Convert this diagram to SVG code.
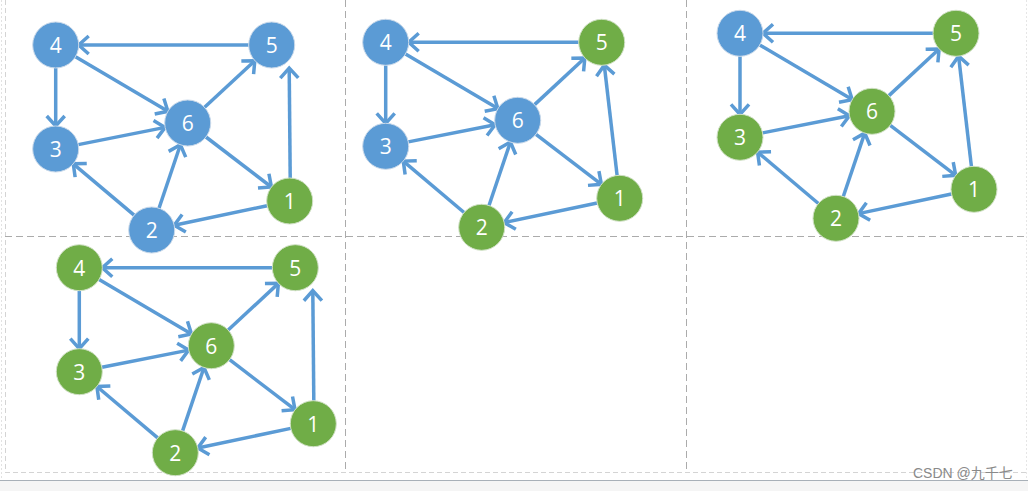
<svg xmlns="http://www.w3.org/2000/svg" xmlns:xlink="http://www.w3.org/1999/xlink" width="1028" height="491" viewBox="0 0 1028 491">
<style>
.grid{stroke:#ababab;stroke-width:1;stroke-dasharray:7 4;fill:none}
.light{stroke:#d4d4d4;stroke-width:1;stroke-dasharray:5 3;fill:none}
.edge{stroke:#5B9BD5;stroke-width:3.5;fill:none;marker-end:url(#arr)}
.b{fill:#5B9BD5;stroke:#c9d9ea;stroke-width:1}
.g{fill:#70AD47;stroke:#cfe0c4;stroke-width:1}
.lbl{font-family:"Open Sans","Liberation Sans",sans-serif;font-size:21px;fill:#ffffff;text-anchor:middle;dominant-baseline:central}
.wm{font-family:"Liberation Sans","Noto Sans CJK SC",sans-serif;font-size:14px;fill:#8a8a8a}
</style>
<defs>
<marker id="arr" markerUnits="userSpaceOnUse" markerWidth="22" markerHeight="22" refX="12" refY="11" orient="auto" viewBox="0 0 22 22">
<path d="M2,2 L12,11 L2,20" fill="none" stroke="#5B9BD5" stroke-width="3.5"/>
</marker>
<g id="edges">
<line class="edge" x1="193" y1="0" x2="23" y2="0"/>
<line class="edge" x1="0" y1="23" x2="0" y2="81"/>
<line class="edge" x1="19.8" y1="11.7" x2="112.2" y2="66.3"/>
<line class="edge" x1="22.6" y1="99.6" x2="109.4" y2="82.4"/>
<line class="edge" x1="78.4" y1="170.2" x2="17.6" y2="118.8"/>
<line class="edge" x1="103.3" y1="163.2" x2="124.7" y2="99.8"/>
<line class="edge" x1="148.9" y1="62.3" x2="199.1" y2="15.7"/>
<line class="edge" x1="150.3" y1="92" x2="215.7" y2="142"/>
<line class="edge" x1="211.5" y1="160.7" x2="118.5" y2="180.3"/>
</g>
</defs>
<rect x="0" y="0" width="1028" height="491" fill="#ffffff"/>
<g id="frame">
<line x1="1.5" y1="0" x2="1.5" y2="480" stroke="#e2e2e2" stroke-dasharray="2 2"/>
<line x1="1026.5" y1="0" x2="1026.5" y2="480" stroke="#e6e6e6" stroke-dasharray="2 2"/>
<line class="light" x1="5.5" y1="0" x2="5.5" y2="472"/>
<line class="light" x1="5" y1="472.5" x2="1028" y2="472.5"/>
<line class="grid" x1="345.5" y1="0" x2="345.5" y2="469"/>
<line class="grid" x1="686.5" y1="0" x2="686.5" y2="469"/>
<line class="grid" x1="5" y1="236.5" x2="1028" y2="236.5"/>
<rect x="0" y="480" width="1028" height="11" fill="#f5f5f5"/>
<line x1="0" y1="480.5" x2="1028" y2="480.5" stroke="#a8b0b8" stroke-width="1.2"/>
</g>
<g id="connectors">
<g transform="translate(55.7,45)"><use xlink:href="#edges"/><line class="edge" x1="234.5" y1="133" x2="233.5" y2="23"/></g>
<g transform="translate(385.7,42.3)"><use xlink:href="#edges"/><line class="edge" x1="231.4" y1="133.1" x2="218.6" y2="22.9"/></g>
<g transform="translate(740,33.3)"><use xlink:href="#edges"/><line class="edge" x1="231.4" y1="133.1" x2="218.6" y2="22.9"/></g>
<g transform="translate(79.3,267.7)"><use xlink:href="#edges"/><line class="edge" x1="234.5" y1="133" x2="233.5" y2="23"/></g>
</g>
<g id="panel1" transform="translate(55.7,45)">
<g id="p1n4"><circle class="b" cx="0" cy="0" r="23"/><text class="lbl" x="0" y="0">4</text></g>
<g id="p1n5"><circle class="b" cx="216" cy="0" r="23"/><text class="lbl" x="216" y="0">5</text></g>
<g id="p1n3"><circle class="b" cx="0" cy="104" r="23"/><text class="lbl" x="0" y="104">3</text></g>
<g id="p1n6"><circle class="b" cx="132" cy="78" r="23"/><text class="lbl" x="132" y="78">6</text></g>
<g id="p1n1"><circle class="g" cx="234" cy="156" r="23"/><text class="lbl" x="234" y="156">1</text></g>
<g id="p1n2"><circle class="b" cx="96" cy="185" r="23"/><text class="lbl" x="96" y="185">2</text></g>
</g>
<g id="panel2" transform="translate(385.7,42.3)">
<g id="p2n4"><circle class="b" cx="0" cy="0" r="23"/><text class="lbl" x="0" y="0">4</text></g>
<g id="p2n5"><circle class="g" cx="216" cy="0" r="23"/><text class="lbl" x="216" y="0">5</text></g>
<g id="p2n3"><circle class="b" cx="0" cy="104" r="23"/><text class="lbl" x="0" y="104">3</text></g>
<g id="p2n6"><circle class="b" cx="132" cy="78" r="23"/><text class="lbl" x="132" y="78">6</text></g>
<g id="p2n1"><circle class="g" cx="234" cy="156" r="23"/><text class="lbl" x="234" y="156">1</text></g>
<g id="p2n2"><circle class="g" cx="96" cy="185" r="23"/><text class="lbl" x="96" y="185">2</text></g>
</g>
<g id="panel3" transform="translate(740,33.3)">
<g id="p3n4"><circle class="b" cx="0" cy="0" r="23"/><text class="lbl" x="0" y="0">4</text></g>
<g id="p3n5"><circle class="g" cx="216" cy="0" r="23"/><text class="lbl" x="216" y="0">5</text></g>
<g id="p3n3"><circle class="g" cx="0" cy="104" r="23"/><text class="lbl" x="0" y="104">3</text></g>
<g id="p3n6"><circle class="g" cx="132" cy="78" r="23"/><text class="lbl" x="132" y="78">6</text></g>
<g id="p3n1"><circle class="g" cx="234" cy="156" r="23"/><text class="lbl" x="234" y="156">1</text></g>
<g id="p3n2"><circle class="g" cx="96" cy="185" r="23"/><text class="lbl" x="96" y="185">2</text></g>
</g>
<g id="panel4" transform="translate(79.3,267.7)">
<g id="p4n4"><circle class="g" cx="0" cy="0" r="23"/><text class="lbl" x="0" y="0">4</text></g>
<g id="p4n5"><circle class="g" cx="216" cy="0" r="23"/><text class="lbl" x="216" y="0">5</text></g>
<g id="p4n3"><circle class="g" cx="0" cy="104" r="23"/><text class="lbl" x="0" y="104">3</text></g>
<g id="p4n6"><circle class="g" cx="132" cy="78" r="23"/><text class="lbl" x="132" y="78">6</text></g>
<g id="p4n1"><circle class="g" cx="234" cy="156" r="23"/><text class="lbl" x="234" y="156">1</text></g>
<g id="p4n2"><circle class="g" cx="96" cy="185" r="23"/><text class="lbl" x="96" y="185">2</text></g>
</g>
<text class="wm" x="913" y="478">CSDN @九千七</text>
</svg>
